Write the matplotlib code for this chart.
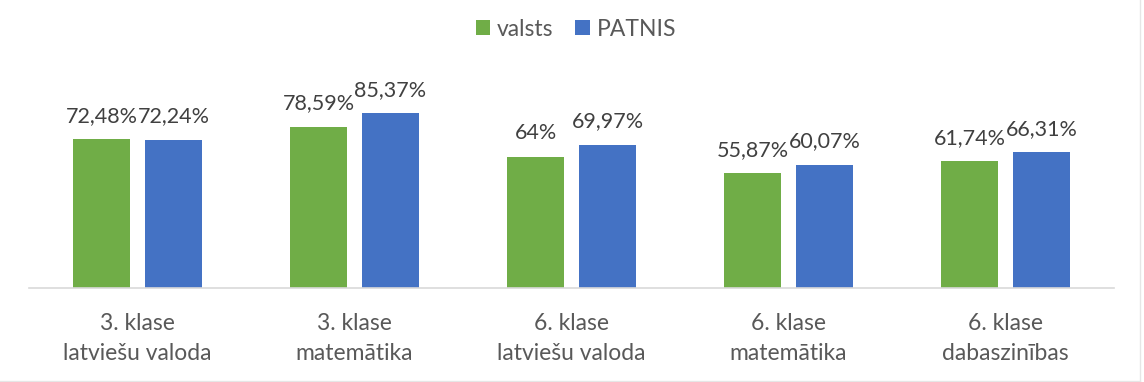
import matplotlib
matplotlib.use("Agg")
import matplotlib.pyplot as plt
from matplotlib.lines import Line2D
import numpy as np

categories = ["3. klase\nlatviešu valoda", "3. klase\nmatemātika", "6. klase\nlatviešu valoda",
              "6. klase\nmatemātika", "6. klase\ndabaszinības"]
valsts = [72.48, 78.59, 64.0, 55.87, 61.74]
patnis = [72.24, 85.37, 69.97, 60.07, 66.31]
valsts_labels = ["72,48%", "78,59%", "64%", "55,87%", "61,74%"]
patnis_labels = ["72,24%", "85,37%", "69,97%", "60,07%", "66,31%"]
series_names = ["valsts", "PATNIS"]

plt.rcParams['font.family'] = ['Lato', 'DejaVu Sans']

W, H = 1144, 382
fig = plt.figure(figsize=(W / 100, H / 100), dpi=100)
left, right, bottom_px, top_px = 29, 1114, 288, 83
ax = fig.add_axes([left / W, 1 - bottom_px / H, (right - left) / W, (bottom_px - top_px) / H])

x = np.arange(len(categories))
bw = 57 / 217
gap = 15 / 217
green = "#70AD47"
blue = "#4472C4"
b1 = ax.bar(x - (bw + gap) / 2, valsts, bw, color=green, label=series_names[0])
b2 = ax.bar(x + (bw + gap) / 2, patnis, bw, color=blue, label=series_names[1])

for bars, labs in ((b1, valsts_labels), (b2, patnis_labels)):
    for rect, lab in zip(bars, labs):
        ax.annotate(lab, (rect.get_x() + rect.get_width() / 2, rect.get_height()),
                    xytext=(0, 12.5), textcoords="offset points", ha="center", va="baseline",
                    fontsize=15.5, color="#404040")

ax.set_xlim(-0.5, len(categories) - 0.5)
ax.set_ylim(0, 100)
ax.set_yticks([])
ax.set_xticks(x)
ax.set_xticklabels(categories, fontsize=16.5, color="#595959", linespacing=1.5)
ax.tick_params(axis="x", length=0, pad=18)
for s in ("top", "right", "left"):
    ax.spines[s].set_visible(False)
ax.spines["bottom"].set_color("#D9D9D9")
ax.spines["bottom"].set_linewidth(1.2)

fig.legend(handles=[b1, b2], loc="center", bbox_to_anchor=(576 / W, 1 - 29 / H), ncol=2,
           frameon=False, fontsize=16.5, handlelength=0.64, handleheight=0.64, handletextpad=0.3,
           columnspacing=0.95, labelcolor="#595959")

# faint outer chart border (right and bottom edges)
fig.add_artist(Line2D([1140 / W, 1140 / W], [1 - 381 / H, 1.0], transform=fig.transFigure,
                      color="#E6E6E6", lw=1))
fig.add_artist(Line2D([0, 1140 / W], [1 - 381 / H, 1 - 381 / H], transform=fig.transFigure,
                      color="#E6E6E6", lw=1))

fig.savefig("out.png", dpi=100, facecolor="white")
